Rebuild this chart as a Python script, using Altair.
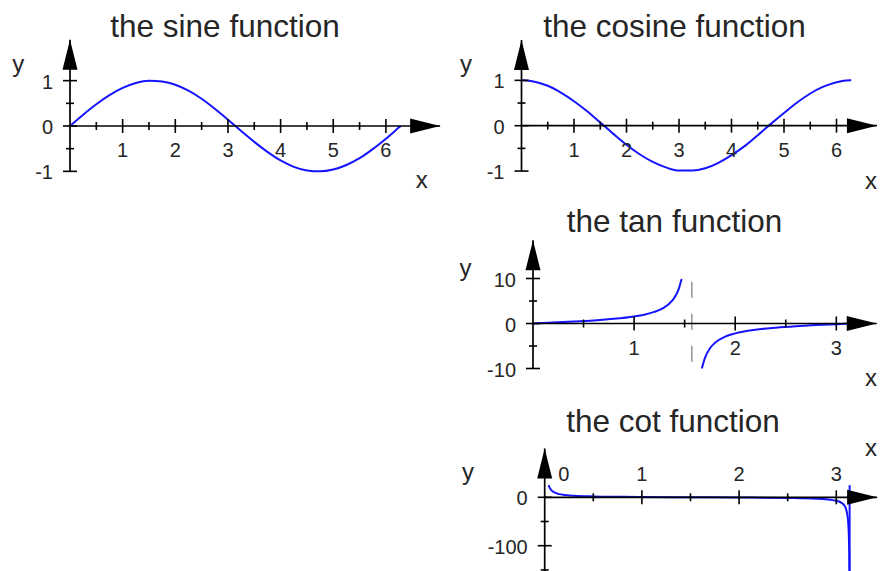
import altair as alt
import pandas as pd

FONT = "Liberation Sans"
INK = "#262626"
BLUE = "#1414ff"

# ---------------- values ----------------
sin_x = [0, 0.25, 0.5, 0.75, 1.0, 1.25, 1.5, 1.75, 2.0, 2.25, 2.5, 2.75, 3.0, 3.25,
         3.5, 3.75, 4.0, 4.25, 4.5, 4.75, 5.0, 5.25, 5.5, 5.75, 6.0, 6.25, 6.28]
sin_y = [0, 0.25, 0.48, 0.68, 0.84, 0.95, 1.0, 0.98, 0.91, 0.78, 0.6, 0.38, 0.14, -0.11,
         -0.35, -0.57, -0.76, -0.9, -0.98, -1.0, -0.96, -0.86, -0.71, -0.51, -0.28, -0.03, 0.0]

cos_x = [0, 0.25, 0.5, 0.75, 1.0, 1.25, 1.5, 1.75, 2.0, 2.25, 2.5, 2.75, 3.0, 3.25,
         3.5, 3.75, 4.0, 4.25, 4.5, 4.75, 5.0, 5.25, 5.5, 5.75, 6.0, 6.25, 6.28]
cos_y = [1.0, 0.97, 0.88, 0.73, 0.54, 0.32, 0.07, -0.18, -0.42, -0.63, -0.8, -0.92, -0.99, -0.99,
         -0.94, -0.82, -0.65, -0.45, -0.21, 0.04, 0.28, 0.51, 0.71, 0.86, 0.96, 1.0, 1.0]

tan_x_left = [0, 0.2, 0.4, 0.6, 0.8, 1.0, 1.1, 1.2, 1.3, 1.35, 1.4, 1.44, 1.47]
tan_y_left = [0, 0.2, 0.42, 0.68, 1.03, 1.56, 1.96, 2.57, 3.6, 4.46, 5.8, 7.6, 9.9]
tan_x_right = [1.67, 1.7, 1.75, 1.8, 1.9, 2.0, 2.2, 2.4, 2.6, 2.8, 3.0, 3.14]
tan_y_right = [-10.0, -7.7, -5.52, -4.29, -2.93, -2.19, -1.37, -0.92, -0.6, -0.36, -0.14, 0.0]
tan_pole_x = [1.5708]
tan_pole_y = [9.3]
tan_pole_y2 = [-10.0]

cot_x = [0.04, 0.05, 0.07, 0.1, 0.15, 0.2, 0.3, 0.5, 0.8, 1.0, 1.5, 2.0, 2.5, 2.8,
         3.0, 3.05, 3.08, 3.1, 3.12, 3.13, 3.135, 3.138]
cot_y = [25.0, 20.0, 14.3, 10.0, 6.6, 4.9, 3.2, 1.8, 0.97, 0.64, 0.07, -0.46, -1.34, -2.81,
         -7.0, -10.9, -16.2, -24.0, -46.3, -86.2, -151.5, -278.0]
cot_jump_x = [3.137]
cot_jump_y = [-160.0]
cot_jump_y2 = [25.0]

trig_xt_major = [1, 2, 3, 4, 5, 6]
trig_xt_labels = ["1", "2", "3", "4", "5", "6"]
trig_xt_minor = [0.5, 1.5, 2.5, 3.5, 4.5, 5.5]
trig_yt_major = [-1, 0, 1]
trig_yt_labels = ["-1", "0", "1"]
trig_yt_minor = [-0.5, 0.5]

tan_xt_major = [1, 2, 3]
tan_xt_labels = ["1", "2", "3"]
tan_xt_minor = [0.5, 1.5, 2.5]
tan_yt_major = [-10, 0, 10]
tan_yt_labels = ["-10", "0", "10"]
tan_yt_minor = [-5, 5]

cot_xt_major = [1, 2, 3]
cot_xt_label_pos = [1, 2, 3]
cot_xt_labels = ["1", "2", "3"]
cot_xt_zero = ["0"]
cot_xt_minor = [0.5, 1.5, 2.5]
cot_yt_major = [-100, 0]
cot_yt_labels = ["-100", "0"]
cot_yt_minor = [-150, -50]

titles = ["the sine function", "the cosine function", "the tan function", "the cot function"]

# ---------------- layout (page pixels) ----------------
GEO = {
    "sin": dict(left=8, top=8, w=435, h=189, ox=70, oy=126, ux=52.65, uy=45.35,
                xaxis=(0, 7.03), yaxis=(-1, 1.9),
                title=(225, 36.5), ylab=(18.3, 72), xlab=(421.7, 188)),
    "cos": dict(left=443, top=8, w=435, h=189, ox=521.5, oy=125.7, ux=52.5, uy=45.35,
                xaxis=(0, 6.77), yaxis=(-1, 1.89),
                title=(674.5, 36.5), ylab=(466, 72), xlab=(871, 188.5)),
    "tan": dict(left=443, top=197, w=435, h=195, ox=533, oy=323.5, ux=101.1, uy=4.5,
                xaxis=(0, 3.40), yaxis=(-10, 18.5),
                title=(674.5, 232), ylab=(465.5, 276), xlab=(871, 386)),
    "cot": dict(left=443, top=392, w=435, h=179, ox=544.7, oy=497.3, ux=97.2, uy=0.484,
                xaxis=(0, 3.42), yaxis=(-180, 101),
                title=(673, 431.5), ylab=(468, 479.5), xlab=(871, 455.5)),
}

RIGHT_ARROW = "M0,0L-2,-0.5L-2,0.5Z"
UP_ARROW = "M0,0L-0.5,2L0.5,2Z"


def build_panel(g, title, curves, xt_major, xt_minor, yt_major, yt_labels, yt_minor,
                xt_label_pos, xt_labels, labels_above=False, extra=None):
    xdom = [(g["left"] - g["ox"]) / g["ux"], (g["left"] + g["w"] - g["ox"]) / g["ux"]]
    ydom = [(g["oy"] - g["top"] - g["h"]) / g["uy"], (g["oy"] - g["top"]) / g["uy"]]
    sx = alt.Scale(domain=xdom, nice=False, zero=False)
    sy = alt.Scale(domain=ydom, nice=False, zero=False)
    X = alt.X("x:Q", scale=sx, axis=None)
    Y = alt.Y("y:Q", scale=sy, axis=None)

    layers = []
    rows = []
    for b, (xs, ys) in enumerate(curves):
        for i, (a, v) in enumerate(zip(xs, ys)):
            rows.append({"x": a, "y": v, "branch": b, "i": i})
    layers.append(
        alt.Chart(pd.DataFrame(rows)).mark_line(
            color=BLUE, strokeWidth=2, interpolate="monotone", clip=True
        ).encode(x=X, y=Y, detail="branch:N", order="i:Q")
    )
    if extra is not None:
        layers.extend(extra(X, Y))

    ax = pd.DataFrame({"x": [g["xaxis"][0], 0], "x2": [g["xaxis"][1], 0],
                       "y": [0, g["yaxis"][0]], "y2": [0, g["yaxis"][1]]})
    layers.append(alt.Chart(ax).mark_rule(color="black", strokeWidth=1.7, clip=True).encode(
        x=X, x2="x2:Q", y=Y, y2="y2:Q"))

    def tick_layer(df, orient, size):
        return alt.Chart(df).mark_tick(orient=orient, size=size, thickness=1.6,
                                       color="black", opacity=1, clip=True).encode(x=X, y=Y)
    layers.append(tick_layer(pd.DataFrame({"x": xt_major, "y": [0] * len(xt_major)}), "vertical", 14))
    layers.append(tick_layer(pd.DataFrame({"x": xt_minor, "y": [0] * len(xt_minor)}), "vertical", 8))
    layers.append(tick_layer(pd.DataFrame({"x": [0] * len(yt_major), "y": yt_major}), "horizontal", 14))
    layers.append(tick_layer(pd.DataFrame({"x": [0] * len(yt_minor), "y": yt_minor}), "horizontal", 8))

    layers.append(alt.Chart(pd.DataFrame({"x": [g["xaxis"][1]], "y": [0]})).mark_point(
        shape=RIGHT_ARROW, size=900, filled=True, color="black", opacity=1, strokeWidth=0, clip=True
    ).encode(x=X, y=Y))
    layers.append(alt.Chart(pd.DataFrame({"x": [0], "y": [g["yaxis"][1]]})).mark_point(
        shape=UP_ARROW, size=900, filled=True, color="black", opacity=1, strokeWidth=0, clip=True
    ).encode(x=X, y=Y))

    xl = pd.DataFrame({"x": xt_label_pos, "y": [0] * len(xt_label_pos), "t": xt_labels})
    layers.append(alt.Chart(xl).mark_text(
        font=FONT, fontSize=20, color=INK, align="center", baseline="middle",
        dy=-22 if labels_above else 25
    ).encode(x=X, y=Y, text="t:N"))
    yl = pd.DataFrame({"x": [0] * len(yt_major), "y": yt_major, "t": yt_labels})
    layers.append(alt.Chart(yl).mark_text(
        font=FONT, fontSize=20, color=INK, align="right", baseline="middle", dx=-17, dy=2
    ).encode(x=X, y=Y, text="t:N"))

    def note(text, pos, size):
        return alt.Chart(pd.DataFrame({"t": [text]})).mark_text(
            font=FONT, fontSize=size, color=INK, align="center", baseline="alphabetic"
        ).encode(text="t:N", x=alt.value(pos[0] - g["left"]), y=alt.value(pos[1] - g["top"]))
    layers.append(note("y", g["ylab"], 24))
    layers.append(note("x", g["xlab"], 24))
    layers.append(note(title, g["title"], 31.5))

    return alt.layer(*layers).properties(width=g["w"], height=g["h"])


def tan_extra(X, Y):
    df = pd.DataFrame({"x": tan_pole_x, "y": tan_pole_y, "y2": tan_pole_y2})
    return [alt.Chart(df).mark_rule(color="#999999", strokeWidth=1.6, strokeDash=[16, 16]).encode(
        x=X, y=Y, y2="y2:Q")]


def cot_extra(X, Y):
    df = pd.DataFrame({"x": cot_jump_x, "y": cot_jump_y, "y2": cot_jump_y2})
    zero = pd.DataFrame({"x": [0], "y": [0], "t": cot_xt_zero})
    return [
        alt.Chart(df).mark_rule(color=BLUE, strokeWidth=2, clip=True).encode(x=X, y=Y, y2="y2:Q"),
        alt.Chart(zero).mark_text(font=FONT, fontSize=20, color=INK, align="center",
                                  baseline="middle", dx=19, dy=-22).encode(x=X, y=Y, text="t:N"),
    ]


sine = build_panel(GEO["sin"], titles[0], [(sin_x, sin_y)],
                   trig_xt_major, trig_xt_minor, trig_yt_major, trig_yt_labels, trig_yt_minor,
                   trig_xt_major, trig_xt_labels)
cosine = build_panel(GEO["cos"], titles[1], [(cos_x, cos_y)],
                     trig_xt_major, trig_xt_minor, trig_yt_major, trig_yt_labels, trig_yt_minor,
                     trig_xt_major, trig_xt_labels)
tangent = build_panel(GEO["tan"], titles[2], [(tan_x_left, tan_y_left), (tan_x_right, tan_y_right)],
                      tan_xt_major, tan_xt_minor, tan_yt_major, tan_yt_labels, tan_yt_minor,
                      tan_xt_major, tan_xt_labels, extra=tan_extra)
cotangent = build_panel(GEO["cot"], titles[3], [(cot_x, cot_y)],
                        cot_xt_major, cot_xt_minor, cot_yt_major, cot_yt_labels, cot_yt_minor,
                        cot_xt_label_pos, cot_xt_labels, labels_above=True, extra=cot_extra)

right = alt.vconcat(cosine, tangent, cotangent, spacing=0, bounds="flush")
chart = alt.hconcat(sine, right, spacing=0, bounds="flush").properties(
    padding=0, background="white"
).configure_view(stroke=None)

chart.save("out.html", embed_options={"renderer": "svg", "actions": False})
